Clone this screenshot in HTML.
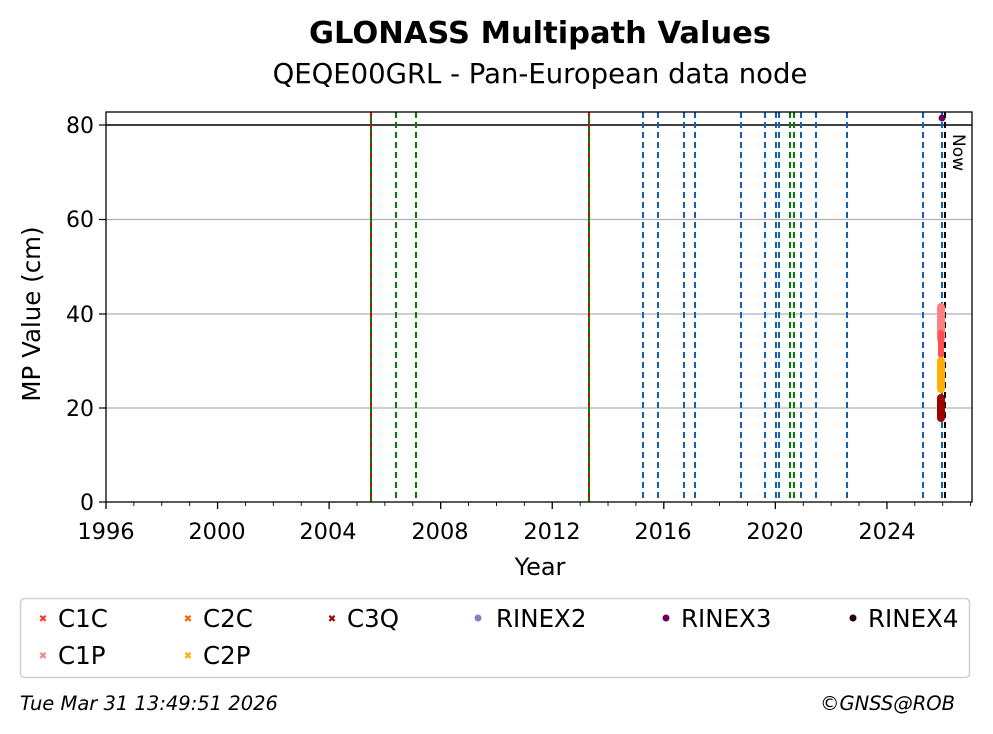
<!DOCTYPE html>
<html><head><meta charset="utf-8"><style>body{margin:0;background:#fff}svg{display:block;font-family:"DejaVu Sans","Liberation Sans",sans-serif}</style></head>
<body>
<svg width="993" height="734" viewBox="0 0 993 734">
<rect width="993" height="734" fill="#fff"/>
<text x="540" y="43" text-anchor="middle" font-size="30.5" font-weight="bold">GLONASS Multipath Values</text>
<text x="540" y="83" text-anchor="middle" font-size="27.5">QEQE00GRL - Pan-European data node</text>
<g stroke="#b0b0b0" stroke-width="1.2">
<line x1="106" y1="219.5" x2="972" y2="219.5"/>
<line x1="106" y1="314" x2="972" y2="314"/>
<line x1="106" y1="408" x2="972" y2="408"/>
</g>
<line x1="106" y1="125" x2="972" y2="125" stroke="#000" stroke-width="1.5"/>
<g stroke-width="2" stroke-dasharray="6,4" fill="none">
<line x1="371" y1="112" x2="371" y2="502" stroke="#e00000"/>
<line x1="371" y1="112" x2="371" y2="502" stroke="#008000" stroke-dashoffset="5"/>
<line x1="589" y1="112" x2="589" y2="502" stroke="#e00000"/>
<line x1="589" y1="112" x2="589" y2="502" stroke="#008000" stroke-dashoffset="5"/>
<g stroke="#008000">
<line x1="396" y1="112" x2="396" y2="502"/><line x1="416" y1="112" x2="416" y2="502"/>
<line x1="790" y1="112" x2="790" y2="502"/><line x1="794" y1="112" x2="794" y2="502"/>
</g>
<g stroke="#1060b8">
<line x1="643" y1="112" x2="643" y2="502"/><line x1="658" y1="112" x2="658" y2="502"/>
<line x1="684" y1="112" x2="684" y2="502"/><line x1="695" y1="112" x2="695" y2="502"/>
<line x1="741" y1="112" x2="741" y2="502"/><line x1="765" y1="112" x2="765" y2="502"/>
<line x1="776" y1="112" x2="776" y2="502"/><line x1="779" y1="112" x2="779" y2="502"/>
<line x1="801" y1="112" x2="801" y2="502"/><line x1="816" y1="112" x2="816" y2="502"/>
<line x1="847" y1="112" x2="847" y2="502"/><line x1="923" y1="112" x2="923" y2="502"/>
<line x1="942" y1="112" x2="942" y2="502"/>
</g>
<line x1="945" y1="112" x2="945" y2="502" stroke="#000"/>
</g>
<g>
<rect x="937" y="303" width="8" height="40" fill="#ff8080" rx="4"/>
<rect x="938" y="330" width="6" height="28" fill="#ff5050" rx="3"/>
<rect x="937" y="357" width="8" height="36" fill="#ffb000" rx="4"/>
<rect x="937" y="394" width="8" height="28" fill="#a00000" rx="4"/>
<circle cx="942" cy="118" r="3.5" fill="#6a0060"/>
</g>
<text transform="translate(953,134) rotate(90)" font-size="17">Now</text>
<rect x="106" y="112" width="866" height="390" fill="none" stroke="#000" stroke-width="1.3"/>
<g stroke="#000" stroke-width="1.2">
<line x1="99" y1="502" x2="106" y2="502"/><line x1="99" y1="408" x2="106" y2="408"/>
<line x1="99" y1="314" x2="106" y2="314"/><line x1="99" y1="219.5" x2="106" y2="219.5"/>
<line x1="99" y1="125" x2="106" y2="125"/>
</g>
<g font-size="22" text-anchor="end">
<text x="94" y="510">0</text><text x="94" y="416">20</text><text x="94" y="322">40</text>
<text x="94" y="227">60</text><text x="94" y="133">80</text>
</g>
<text transform="translate(40,314) rotate(-90)" text-anchor="middle" font-size="24.5">MP Value (cm)</text>
<g id="xt" stroke="#000"></g>
<g font-size="22.5" text-anchor="middle">
<text x="106" y="539">1996</text><text x="217" y="539">2000</text><text x="328" y="539">2004</text>
<text x="440" y="539">2008</text><text x="552" y="539">2012</text><text x="663" y="539">2016</text>
<text x="775" y="539">2020</text><text x="887" y="539">2024</text>
</g>
<text x="540" y="575" text-anchor="middle" font-size="24">Year</text>
<rect x="20.5" y="598.5" width="949" height="79" rx="4" fill="#fff" stroke="#d0d0d0" stroke-width="1.5"/>
<g font-weight="bold">
<text x="43" y="622" fill="#ff3030" font-size="10" text-anchor="middle">✖</text>
<text x="188" y="622" fill="#ff6000" font-size="10" text-anchor="middle">✖</text>
<text x="332" y="622" fill="#a00000" font-size="10" text-anchor="middle">✖</text>
<text x="43" y="659" fill="#ff8080" font-size="10" text-anchor="middle">✖</text>
<text x="188" y="659" fill="#ffb000" font-size="10" text-anchor="middle">✖</text>
</g>
<circle cx="478" cy="618" r="3.5" fill="#8080c8"/>
<circle cx="666" cy="618" r="3.5" fill="#6a0060"/>
<circle cx="853" cy="618" r="3.5" fill="#200010"/>
<g font-size="24.5">
<text x="58" y="627">C1C</text><text x="203" y="627">C2C</text><text x="347" y="627">C3Q</text>
<text x="496" y="627">RINEX2</text><text x="681" y="627">RINEX3</text><text x="868" y="627">RINEX4</text>
<text x="58" y="664">C1P</text><text x="203" y="664">C2P</text>
</g>
<g font-size="19.5" font-style="italic">
<text x="20" y="710">Tue Mar 31 13:49:51 2026</text>
<text x="955" y="710" text-anchor="end">©GNSS@ROB</text>
</g>
</svg>
<script>
(function(){var g=document.getElementById('xt'),s='';
for(var i=0;i<=31;i++){var x=106+i*27.89;if(x>972)break;var m=(i%4==0);
s+='<line x1="'+x+'" y1="502" x2="'+x+'" y2="'+(m?509:506)+'" stroke-width="'+(m?1.3:0.9)+'"/>';}
g.innerHTML=s;})();
</script>
</body></html>
